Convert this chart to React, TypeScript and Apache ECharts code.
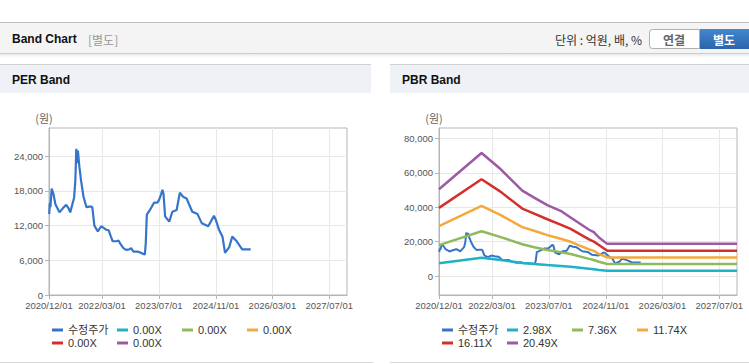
import React, { useEffect, useRef } from 'react';
import * as echarts from 'echarts';

const FONT = "'Liberation Sans', 'Noto Sans CJK KR', sans-serif";
const KFONT = "'Noto Sans CJK KR', 'Liberation Sans', sans-serif";

// 수정주가 (adjusted price)
const priceDates = [
  '2020-12-03', '2020-12-08', '2020-12-13', '2020-12-24', '2021-01-08', '2021-01-25', '2021-03-01',
  '2021-03-29', '2021-04-28', '2021-05-18', '2021-06-01', '2021-06-22', '2021-07-04', '2021-07-15',
  '2021-07-23', '2021-07-30', '2021-08-06', '2021-08-18', '2021-09-02', '2021-09-23', '2021-10-18',
  '2021-11-12', '2021-12-01', '2021-12-08', '2021-12-25', '2022-01-24', '2022-02-22', '2022-03-15',
  '2022-04-05', '2022-04-27', '2022-05-16', '2022-05-31', '2022-06-28', '2022-07-21', '2022-08-10',
  '2022-08-31', '2022-09-23', '2022-10-21', '2022-11-05', '2022-11-25', '2023-01-01', '2023-01-29',
  '2023-02-18', '2023-03-03', '2023-03-11', '2023-03-20', '2023-04-09', '2023-05-02', '2023-05-22',
  '2023-06-20', '2023-07-04', '2023-07-18', '2023-08-01', '2023-08-10', '2023-08-24', '2023-09-28',
  '2023-10-25', '2023-12-01', '2023-12-28', '2024-01-25', '2024-02-24', '2024-04-13', '2024-05-28',
  '2024-07-04', '2024-08-28', '2024-10-16', '2024-11-01', '2024-11-28', '2024-12-28', '2025-01-19',
  '2025-02-24', '2025-03-22', '2025-04-25', '2025-06-15', '2025-08-27',
];
const priceValues = [
  14000, 15900, 15200, 18400, 17500, 15700, 14300,
  15000, 15600, 15000, 14300, 15900, 16800, 19800,
  25300, 22800, 25000, 22300, 19800, 17000, 15200,
  15300, 15300, 15100, 12000, 11000, 11900, 11600,
  11300, 11200, 10100, 9300, 9300, 9400, 8700,
  8100, 7800, 7900, 8100, 7500, 7500, 7300,
  7100, 7000, 9000, 13900, 14500, 15300, 16000,
  16000, 16500, 17300, 18200, 17500, 13600, 12700,
  14400, 14700, 17700, 17000, 16700, 14400, 14000,
  12400, 11900, 13700, 13000, 11300, 10100, 7300,
  8300, 10100, 9400, 7900, 7900,
];

// PBR band lines
const bandDates = [
  '2020-12-01', '2021-12-01', '2022-05-15', '2022-11-15', '2023-02-25', '2023-06-18', '2023-10-10',
  '2024-01-04', '2024-06-10', '2024-07-21', '2024-09-03', '2024-11-13', '2027-12-01',
];
const band298 = [7500, 10700, 9300, 7600, 7000, 6400, 5900, 5400, 4300, 4000, 3500, 3100, 3100];
const band736 = [18000, 26000, 22600, 18500, 16700, 15100, 13900, 12800, 10000, 9300, 8300, 7000, 7000];
const band1174 = [29000, 40800, 35400, 28400, 26300, 23800, 21700, 19900, 15500, 14600, 12800, 10800, 10800];
const band1611 = [39600, 56200, 48900, 39200, 36300, 33000, 29900, 27400, 21300, 20000, 18000, 14700, 14700];
const band2049 = [50400, 71500, 62000, 49600, 45600, 41200, 37900, 34000, 26900, 25500, 22400, 18700, 18700];

const perNames = ['수정주가', '0.00X', '0.00X', '0.00X', '0.00X', '0.00X'];
const pbrNames = ['수정주가', '2.98X', '7.36X', '11.74X', '16.11X', '20.49X'];
const colors = ['#3575c9', '#1fb2c6', '#8fba5b', '#f4a93c', '#d2302b', '#9b5aa1'];

const xTickLabels = ['2020/12/01', '2022/03/01', '2023/07/01', '2024/11/01', '2026/03/01', '2027/07/01'];
const xMin = '2020/12/01';
const xMax = '2027/12/01';
const perTicks = [0, 6000, 12000, 18000, 24000];
const perMax = 28900;
const pbrTicks = [0, 20000, 40000, 60000, 80000];
const pbrMin = -11000;
const pbrMax = 86000;

function ts(s: string): number {
  const p = s.split(/[-/]/).map(Number);
  return Date.UTC(p[0], p[1] - 1, p[2]);
}
function pad(n: number) {
  return n < 10 ? '0' + n : '' + n;
}
function fmtDate(v: number) {
  const d = new Date(v);
  return `${d.getUTCFullYear()}/${pad(d.getUTCMonth() + 1)}/${pad(d.getUTCDate())}`;
}
function fmtNum(v: number) {
  return Math.round(v).toLocaleString('en-US');
}

const AXIS_COLOR = '#b5b5b5';
const LABEL_COLOR = '#555';

function makeX(gridIndex: number) {
  const custom = xTickLabels.map(ts);
  return {
    type: 'value',
    gridIndex,
    min: ts(xMin),
    max: ts(xMax),
    axisLine: { show: true, onZero: false, lineStyle: { color: AXIS_COLOR } },
    axisTick: { show: true, length: 4, lineStyle: { color: AXIS_COLOR }, customValues: custom },
    axisLabel: {
      customValues: custom,
      formatter: (v: number) => fmtDate(v),
      color: LABEL_COLOR,
      fontSize: 9.5,
      fontFamily: FONT,
      margin: 6,
      hideOverlap: false,
    },
    splitLine: { show: true, lineStyle: { color: '#e8e8e8', width: 1 } },
  };
}

function makeY(gridIndex: number, min: number, max: number, ticks: number[]) {
  return {
    type: 'value',
    gridIndex,
    min,
    max,
    axisLine: { show: true, onZero: false, lineStyle: { color: AXIS_COLOR } },
    axisTick: { show: true, length: 4, lineStyle: { color: AXIS_COLOR }, customValues: ticks },
    axisLabel: {
      customValues: ticks,
      formatter: (v: number) => fmtNum(v),
      color: LABEL_COLOR,
      fontSize: 9.5,
      fontFamily: FONT,
      margin: 6,
    },
    splitLine: { show: true, lineStyle: { color: '#e8e8e8', width: 1 } },
  };
}

function legendItems(names: string[], baseLeft: number) {
  const out: any[] = [];
  names.forEach((name, i) => {
    const col = i % 4;
    const row = Math.floor(i / 4);
    out.push({
      left: baseLeft + col * 65,
      top: 323.5 + row * 13,
      padding: 0,
      itemGap: 0,
      icon: 'rect',
      itemWidth: 11,
      itemHeight: 3,
      selectedMode: false,
      textStyle: { fontSize: 11, color: '#333', fontFamily: FONT, lineHeight: 13 },
      data: [{ name, itemStyle: { color: colors[i] } }],
    });
  });
  return out;
}

export default function App() {
  const ref = useRef<HTMLDivElement>(null);

  useEffect(() => {
    if (!ref.current) return;
    const chart = echarts.init(ref.current, undefined, { renderer: 'svg' });

    const priceData = priceDates.map((d, i) => [ts(d), priceValues[i]]);
    const bands = [band298, band736, band1174, band1611, band2049];

    const series: any[] = [];
    series.push({
      name: perNames[0],
      type: 'line',
      xAxisIndex: 0,
      yAxisIndex: 0,
      showSymbol: false,
      data: priceData,
      itemStyle: { color: colors[0] },
      lineStyle: { color: colors[0], width: 2.2 },
    });
    for (let i = 1; i < perNames.length; i++) {
      series.push({
        name: perNames[i],
        type: 'line',
        xAxisIndex: 0,
        yAxisIndex: 0,
        showSymbol: false,
        data: [],
        itemStyle: { color: colors[i] },
        lineStyle: { color: colors[i], width: 2.5 },
      });
    }
    series.push({
      name: pbrNames[0],
      type: 'line',
      xAxisIndex: 1,
      yAxisIndex: 1,
      showSymbol: false,
      data: priceData,
      itemStyle: { color: colors[0] },
      lineStyle: { color: colors[0], width: 2 },
    });
    bands.forEach((b, k) => {
      series.push({
        name: pbrNames[k + 1],
        type: 'line',
        xAxisIndex: 1,
        yAxisIndex: 1,
        showSymbol: false,
        data: bandDates.map((d, i) => [ts(d), b[i]]),
        itemStyle: { color: colors[k + 1] },
        lineStyle: { color: colors[k + 1], width: 2.5 },
      });
    });

    const header: any[] = [
      { type: 'rect', shape: { x: 0, y: 22, width: 749, height: 1 }, style: { fill: '#bdbdbd' }, silent: true },
      { type: 'rect', shape: { x: 0, y: 23, width: 749, height: 30 }, style: { fill: '#f4f4f4' }, silent: true },
      { type: 'rect', shape: { x: 0, y: 53, width: 749, height: 1 }, style: { fill: '#cdcdcd' }, silent: true },
      {
        type: 'rect',
        shape: { x: 0, y: 54, width: 749, height: 4 },
        style: {
          fill: new echarts.graphic.LinearGradient(0, 0, 0, 1, [
            { offset: 0, color: 'rgba(0,0,0,0.08)' },
            { offset: 1, color: 'rgba(0,0,0,0)' },
          ]),
        },
        silent: true,
      },
      {
        type: 'text', x: 12, y: 39,
        style: { text: 'Band Chart', fontSize: 12, fontWeight: 'bold', fontFamily: FONT, fill: '#111', align: 'left', verticalAlign: 'middle' },
      },
      {
        type: 'text', x: 88, y: 39,
        style: { text: '[별도]', fontSize: 12, fontFamily: KFONT, fill: '#999', align: 'left', verticalAlign: 'middle' },
      },
      {
        type: 'text', x: 642, y: 39,
        style: { text: '단위 : 억원, 배, %', fontSize: 12, fontFamily: KFONT, fill: '#333', align: 'right', verticalAlign: 'middle' },
      },
      {
        type: 'rect',
        shape: { x: 649.5, y: 29.5, width: 50, height: 19, r: [3, 0, 0, 3] },
        style: { fill: '#fff', stroke: '#b0b0b0', lineWidth: 1 },
      },
      {
        type: 'text', x: 674, y: 39,
        style: { text: '연결', fontSize: 12, fontWeight: 'bold', fontFamily: KFONT, fill: '#666', align: 'center', verticalAlign: 'middle' },
      },
      {
        type: 'rect',
        shape: { x: 700, y: 29, width: 52, height: 20, r: [0, 3, 3, 0] },
        style: {
          fill: new echarts.graphic.LinearGradient(0, 0, 0, 1, [
            { offset: 0, color: '#4586cf' },
            { offset: 1, color: '#2a65ab' },
          ]),
        },
      },
      {
        type: 'text', x: 724, y: 39,
        style: { text: '별도', fontSize: 12, fontWeight: 'bold', fontFamily: KFONT, fill: '#fff', align: 'center', verticalAlign: 'middle' },
      },
      { type: 'rect', shape: { x: 0, y: 64, width: 371, height: 1 }, style: { fill: '#d2d2d2' }, silent: true },
      { type: 'rect', shape: { x: 0, y: 65, width: 371, height: 28 }, style: { fill: '#eef2f7' }, silent: true },
      { type: 'rect', shape: { x: 390, y: 64, width: 359, height: 1 }, style: { fill: '#d2d2d2' }, silent: true },
      { type: 'rect', shape: { x: 390, y: 65, width: 359, height: 28 }, style: { fill: '#eef2f7' }, silent: true },
      {
        type: 'text', x: 12, y: 80,
        style: { text: 'PER Band', fontSize: 12, fontWeight: 'bold', fontFamily: FONT, fill: '#111', align: 'left', verticalAlign: 'middle' },
      },
      {
        type: 'text', x: 402, y: 80,
        style: { text: 'PBR Band', fontSize: 12, fontWeight: 'bold', fontFamily: FONT, fill: '#111', align: 'left', verticalAlign: 'middle' },
      },
      { type: 'rect', shape: { x: 0, y: 362, width: 373, height: 1 }, style: { fill: '#d8d8d8' }, silent: true },
      { type: 'rect', shape: { x: 390, y: 362, width: 359, height: 1 }, style: { fill: '#d8d8d8' }, silent: true },
      {
        type: 'text', x: 44, y: 118,
        style: { text: '(원)', fontSize: 11, fontFamily: KFONT, fill: '#666', align: 'center', verticalAlign: 'middle' },
      },
      {
        type: 'text', x: 434, y: 118,
        style: { text: '(원)', fontSize: 11, fontFamily: KFONT, fill: '#666', align: 'center', verticalAlign: 'middle' },
      },
    ];

    chart.setOption({
      animation: false,
      backgroundColor: '#ffffff',
      textStyle: { fontFamily: FONT },
      grid: [
        { left: 49, top: 128, width: 298, height: 167, show: true, borderColor: AXIS_COLOR, borderWidth: 1, backgroundColor: '#fff' },
        { left: 439, top: 128, width: 298, height: 167, show: true, borderColor: AXIS_COLOR, borderWidth: 1, backgroundColor: '#fff' },
      ],
      xAxis: [makeX(0), makeX(1)],
      yAxis: [makeY(0, 0, perMax, perTicks), makeY(1, pbrMin, pbrMax, pbrTicks)],
      legend: [...legendItems(perNames, 52), ...legendItems(pbrNames, 442)],
      graphic: header,
      series,
    });

    return () => {
      chart.dispose();
    };
  }, []);

  return (
    <div
      ref={ref}
      style={{ position: 'absolute', left: 0, top: 0, width: 749, height: 364, background: '#fff' }}
    />
  );
}
